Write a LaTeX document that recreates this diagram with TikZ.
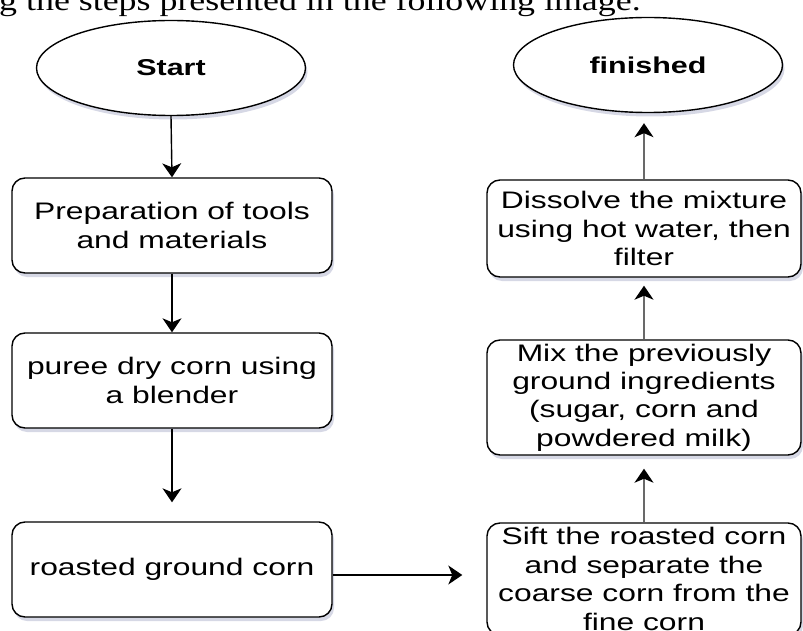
\documentclass[tikz,border=0pt]{standalone}
\usepackage{fontspec}
\usepackage{xcolor}
\usetikzlibrary{arrows.meta,shapes.geometric,shadows}
\newfontfamily\boxfont{Liberation Sans}[FakeStretch=1.33]
\newfontfamily\introfont{Liberation Serif}[FakeStretch=1.25]
\definecolor{ShadowBlue}{RGB}{120,125,170}
\definecolor{LineGray}{RGB}{105,105,105}

\begin{document}
\begin{tikzpicture}[x=1bp,y=-1bp,
  stepbox/.style={draw,line width=1.4bp,rounded corners=13bp,fill=white,align=center,inner sep=0pt,
    font=\boxfont\fontsize{24}{28.5}\selectfont,
    drop shadow={shadow xshift=2bp,shadow yshift=-4bp,fill=ShadowBlue,opacity=0.3}},
  endpoint/.style={ellipse,draw,line width=1.4bp,fill=white,inner sep=0pt,
    minimum width=269bp,minimum height=95bp,
    font=\boxfont\bfseries\fontsize{23}{28}\selectfont,
    drop shadow={shadow xshift=2bp,shadow yshift=-4bp,fill=ShadowBlue,opacity=0.3}},
  flow/.style={-{Stealth[length=14bp,width=19bp,inset=4bp]},line width=1.4bp},
  flowup/.style={-{Stealth[length=14bp,width=19bp,inset=4bp,color=black]},line width=1.6bp,draw=LineGray}]
\useasboundingbox (0,0) rectangle (803,631);
\clip (0,0) rectangle (803,631);

% Caption line (cut off)
\node[anchor=base west,inner sep=0pt,font=\introfont\fontsize{28.8}{32}\selectfont] (intro) at (-1,11)
  {g the steps presented in the following image.};

% Left column
\node[endpoint] (start) at (171,68) {Start};
\node[stepbox,minimum width=320bp,minimum height=95bp] (prep) at (172,225.5) {Preparation of tools\\and materials};
\node[stepbox,minimum width=320bp,minimum height=95bp] (puree) at (172,380.5) {puree dry corn using\\a blender};
\node[stepbox,minimum width=320bp,minimum height=95bp] (roast) at (172,569.5) {roasted ground corn};

% Right column
\node[stepbox,minimum width=314bp,minimum height=112bp] (sift) at (644,579) {Sift the roasted corn\\and separate the\\coarse corn from the\\fine corn};
\node[stepbox,minimum width=314bp,minimum height=115bp] (mix) at (644,397.5) {Mix the previously\\ground ingredients\\(sugar, corn and\\powdered milk)};
\node[stepbox,minimum width=314bp,minimum height=97bp] (dissolve) at (644,228.5) {Dissolve the mixture\\using hot water, then\\filter};
\node[endpoint] (finish) at (648,65) {finished};

% Arrows
\draw[flow] (start.south) -- (prep.north);
\draw[flow] (prep.south) -- (puree.north);
\draw[flow,shorten >=19bp] (puree.south) -- (roast.north);
\coordinate (roastout) at ([yshift=-5.5bp]roast.east);
\draw[flow,shorten >=24bp] (roastout) -- (roastout -| sift.west);
\draw[flowup,shorten >=13bp] (sift.north) -- (mix.south);
\draw[flowup,shorten >=8bp] (mix.north) -- (dissolve.south);
\draw[flowup,shorten >=10bp] (dissolve.north) -- (dissolve.north |- finish.south);

\end{tikzpicture}
\end{document}
